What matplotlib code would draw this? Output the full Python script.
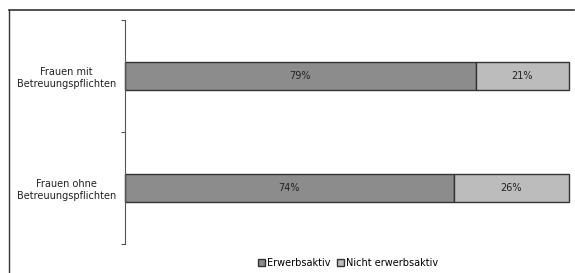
import matplotlib
matplotlib.use("Agg")
import matplotlib.pyplot as plt
from matplotlib.lines import Line2D
from matplotlib.patches import Patch

categories = ["Frauen mit\nBetreuungspflichten", "Frauen ohne\nBetreuungspflichten"]
erwerbsaktiv = [79, 74]
nicht_erwerbsaktiv = [21, 26]
series_names = ["Erwerbsaktiv", "Nicht erwerbsaktiv"]
colors = ["#8c8c8c", "#bcbcbc"]

W, H = 575, 273
fig = plt.figure(figsize=(W / 100, H / 100), dpi=100)
ax = fig.add_axes([125 / W, 1 - 244 / H, (569 - 125) / W, (244 - 20) / H])

ypos = list(range(len(categories)))
b1 = ax.barh(ypos, erwerbsaktiv, height=0.25, color=colors[0], edgecolor="#333333", linewidth=1.0)
b2 = ax.barh(ypos, nicht_erwerbsaktiv, left=erwerbsaktiv, height=0.25, color=colors[1],
             edgecolor="#333333", linewidth=1.0)
for p in list(b1) + list(b2):
    p.set_clip_on(False)

for y, a, b in zip(ypos, erwerbsaktiv, nicht_erwerbsaktiv):
    ax.text(a / 2, y, f"{a}%", ha="center", va="center", fontsize=7, color="#222222")
    ax.text(a + b / 2, y, f"{b}%", ha="center", va="center", fontsize=7, color="#222222")

ax.set_xlim(0, 100)
ax.set_ylim(len(categories) - 0.5, -0.5)
ax.set_xticks([])
ax.set_yticks([-0.5, 0.5, 1.5])
ax.set_yticklabels([])
ax.tick_params(axis="y", which="major", length=3, width=0.8, color="#555555", direction="out")
ax.set_yticks(ypos, minor=True)
ax.set_yticklabels(categories, minor=True, fontsize=7, color="#222222", ha="center")
ax.tick_params(axis="y", which="minor", length=0, pad=42)
for s in ["top", "right", "bottom"]:
    ax.spines[s].set_visible(False)
ax.spines["left"].set_color("#555555")
ax.spines["left"].set_linewidth(0.8)

handles = [Patch(facecolor=c, edgecolor="#333333", linewidth=1.0) for c in colors]
fig.legend(handles, series_names, loc="center", bbox_to_anchor=(348 / W, 1 - 263 / H),
           ncol=2, frameon=False, fontsize=7, handlelength=0.8, handleheight=0.8,
           handletextpad=0.2, columnspacing=0.6, borderaxespad=0)

# outer frame (top and left visible)
fig.add_artist(Line2D([9 / W, 9 / W], [0, 1 - 10 / H], transform=fig.transFigure,
                      color="#333333", linewidth=1.0))
fig.add_artist(Line2D([9 / W, 574 / W], [1 - 10 / H, 1 - 10 / H], transform=fig.transFigure,
                      color="#333333", linewidth=1.2))

fig.savefig("out.png", dpi=100)
